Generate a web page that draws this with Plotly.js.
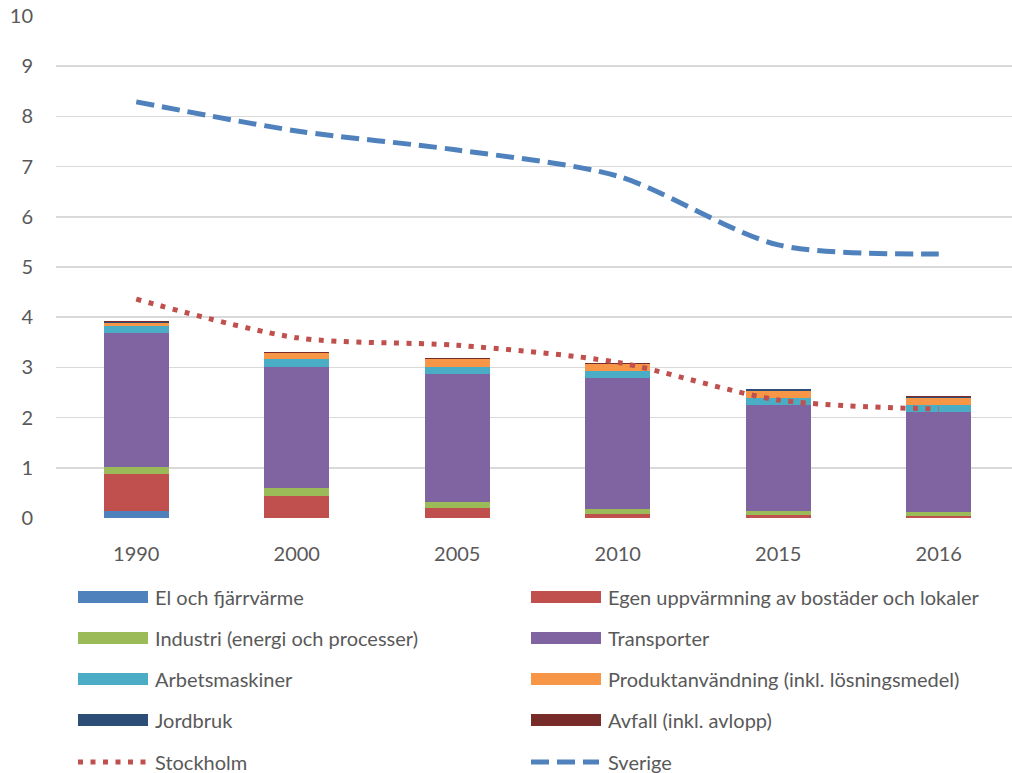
<!DOCTYPE html>
<html>
<head>
<meta charset="utf-8">
<script src="https://cdn.plot.ly/plotly-3.0.1.min.js"></script>
<style>
html,body{margin:0;padding:0;overflow:hidden;background:#fff;}
#chart{width:1019px;height:773px;}
</style>
</head>
<body>
<div id="chart"></div>
<script>
var years = ['1990', '2000', '2005', '2010', '2015', '2016'];

var elOchFjarrvarme = [0.13, 0.01, 0.01, 0.01, 0.005, 0.005];
var egenUppvarmning = [0.75, 0.43, 0.19, 0.07, 0.045, 0.035];
var industri = [0.14, 0.16, 0.125, 0.10, 0.09, 0.08];
var transporter = [2.67, 2.41, 2.54, 2.61, 2.11, 2.00];
var arbetsmaskiner = [0.14, 0.16, 0.14, 0.14, 0.14, 0.13];
var produktanvandning = [0.06, 0.12, 0.16, 0.14, 0.14, 0.15];
var jordbruk = [0.005, 0.005, 0.005, 0.005, 0.03, 0.005];
var avfall = [0.02, 0.02, 0.02, 0.02, 0.01, 0.02];

var stockholm = [4.36, 3.59, 3.44, 3.1, 2.35, 2.17];
var sverige = [8.29, 7.71, 7.33, 6.81, 5.44, 5.26];

var barNames = ['El och fjärrvärme', 'Egen uppvärmning av bostäder och lokaler',
  'Industri (energi och processer)', 'Transporter', 'Arbetsmaskiner',
  'Produktanvändning (inkl. lösningsmedel)', 'Jordbruk', 'Avfall (inkl. avlopp)'];
var barValues = [elOchFjarrvarme, egenUppvarmning, industri, transporter,
  arbetsmaskiner, produktanvandning, jordbruk, avfall];
var barColors = ['#4F81BD', '#C0504D', '#9BBB59', '#8064A2', '#4BACC6', '#F79646', '#2C4D75', '#772C2A'];

var lineNames = ['Stockholm', 'Sverige'];
var lineValues = [stockholm, sverige];
var lineColors = ['#C0504D', '#4F81BD'];
var lineDash = ['5px,7.5px', '18px,8px'];

var FONT = 'Lato, "Open Sans", sans-serif';
var TXT = '#595959';
var FS = 20;

var traces = [];
barNames.forEach(function (n, i) {
  traces.push({type: 'bar', name: n, x: years, y: barValues[i],
    marker: {color: barColors[i], line: {width: 0}}, showlegend: false});
});
lineNames.forEach(function (n, i) {
  traces.push({type: 'scatter', mode: 'lines', name: n, x: years, y: lineValues[i],
    line: {color: lineColors[i], width: 5, dash: lineDash[i], shape: 'spline', smoothing: 0.8},
    showlegend: false});
});

// custom legend (two columns)
var L = 56, W = 963, B = 518, H = 502;
function px(x) { return (x - L) / W; }
function py(y) { return (B - y) / H; }
var legNames = [], legColors = [], legDash = [];
barNames.forEach(function (n, i) { legNames.push(n); legColors.push(barColors[i]); legDash.push(null); });
lineNames.forEach(function (n, i) { legNames.push(n); legColors.push(lineColors[i]); legDash.push(lineDash[i]); });

var shapes = [], annotations = [];
var colX = [78, 531], rowY = [597, 638, 679, 720, 762];
legNames.forEach(function (n, i) {
  var c = i % 2, r = Math.floor(i / 2);
  var x0 = colX[c], yc = rowY[r];
  if (legDash[i] === null) {
    shapes.push({type: 'rect', xref: 'paper', yref: 'paper',
      x0: px(x0), x1: px(x0 + 70), y0: py(yc - 6), y1: py(yc + 6),
      fillcolor: legColors[i], line: {width: 0}});
  } else {
    shapes.push({type: 'line', xref: 'paper', yref: 'paper',
      x0: px(x0), x1: px(x0 + 68), y0: py(yc), y1: py(yc),
      line: {color: legColors[i], width: 5, dash: legDash[i]}});
  }
  annotations.push({xref: 'paper', yref: 'paper', x: px(x0 + 75), y: py(yc),
    xanchor: 'left', yanchor: 'middle', showarrow: false, text: n,
    font: {family: FONT, size: FS, color: TXT}});
});

var layout = {
  width: 1019, height: 773,
  margin: {l: L, r: 0, t: 16, b: 255},
  paper_bgcolor: '#fff', plot_bgcolor: '#fff',
  barmode: 'stack', bargap: 0.595,
  showlegend: false,
  font: {family: FONT, size: FS, color: TXT},
  xaxis: {type: 'category', showgrid: false, zeroline: false, showline: false,
    ticks: '', ticklabelstandoff: 22, tickfont: {family: FONT, size: FS, color: TXT}},
  yaxis: {range: [0, 10], dtick: 1, showgrid: true, gridcolor: '#D9D9D9', gridwidth: 1.5,
    zeroline: false, showline: false, ticks: '', ticklabelstandoff: 22,
    tickfont: {family: FONT, size: FS, color: TXT}},
  shapes: shapes,
  annotations: annotations
};

Plotly.newPlot('chart', traces, layout, {staticPlot: true, displayModeBar: false});
</script>
</body>
</html>
